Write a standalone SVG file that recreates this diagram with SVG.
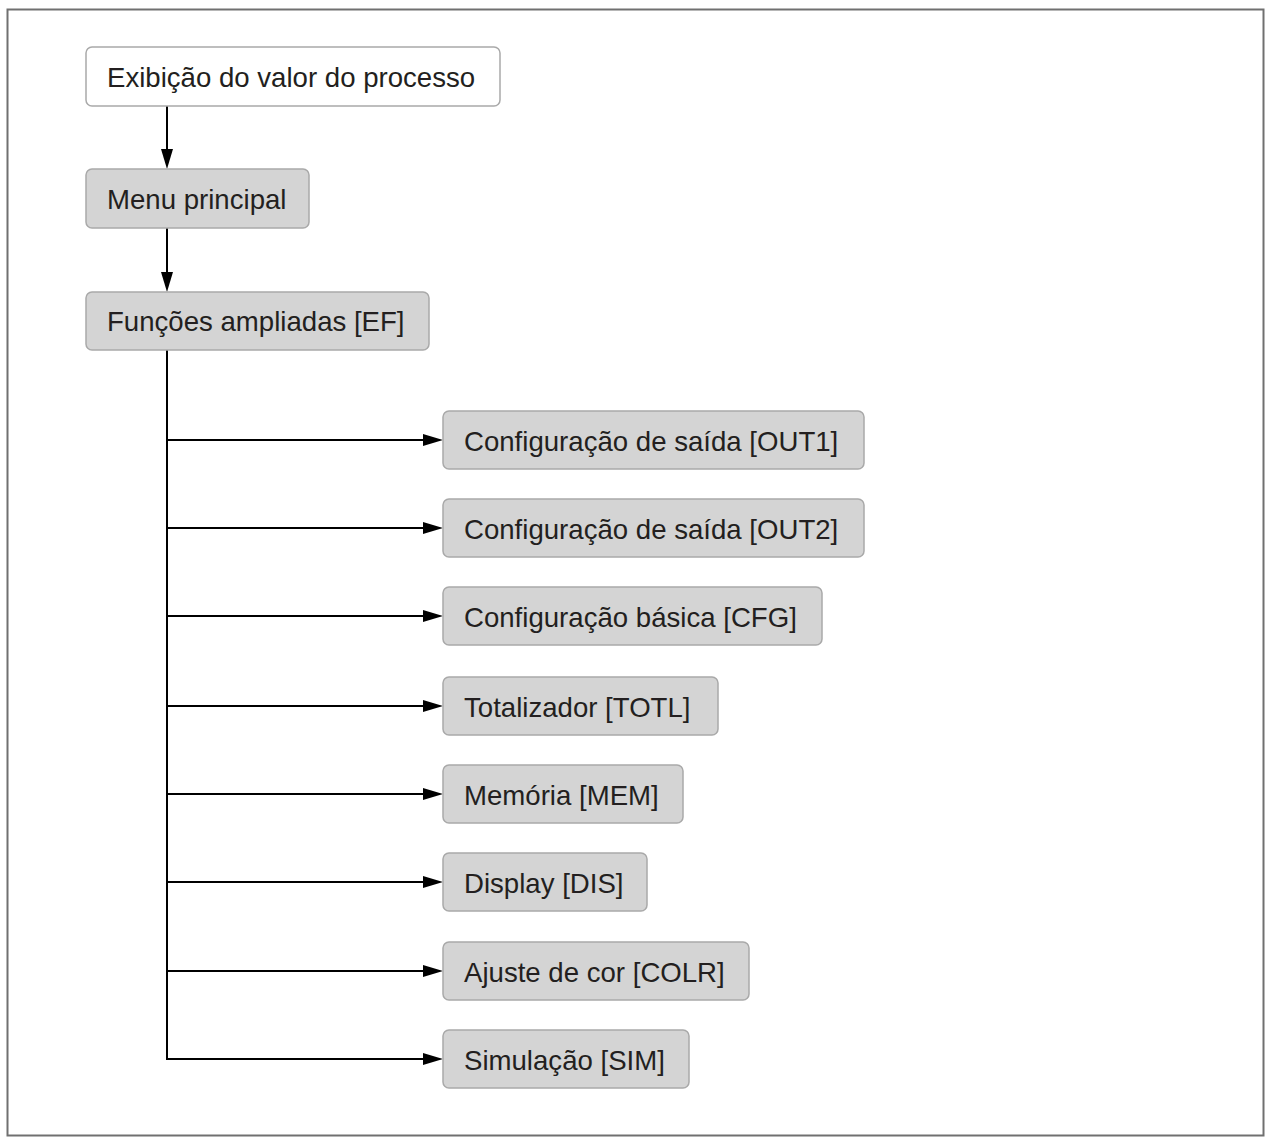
<svg xmlns="http://www.w3.org/2000/svg" width="1265" height="1137" viewBox="0 0 1265 1137">
<style>
.box{fill:#d4d4d4;stroke:#a9a9a9;stroke-width:1.5}
.wbox{fill:#ffffff;stroke:#a9a9a9;stroke-width:1.5}
.lbl{font-family:"Liberation Sans",Arial,Helvetica,sans-serif;font-size:27.6px;fill:#231f20}
.con{fill:none;stroke:#000;stroke-width:2}
</style>
<defs>
<marker id="ah" markerUnits="userSpaceOnUse" markerWidth="20" markerHeight="12" refX="10" refY="6" orient="auto">
<path d="M0,0 L20,6 L0,12 z" fill="#000"/>
</marker>
</defs>
<rect x="7.5" y="9.5" width="1256" height="1126" fill="#fff" stroke="#707070" stroke-width="2"/>
<g id="connectors">
<path class="con" d="M167,106 V159" marker-end="url(#ah)"/>
<path class="con" d="M167,228 V282" marker-end="url(#ah)"/>
<path class="con" d="M167,350 V1059 H433" marker-end="url(#ah)"/>
<path class="con" d="M167,440 H433" marker-end="url(#ah)"/>
<path class="con" d="M167,528 H433" marker-end="url(#ah)"/>
<path class="con" d="M167,616 H433" marker-end="url(#ah)"/>
<path class="con" d="M167,706 H433" marker-end="url(#ah)"/>
<path class="con" d="M167,794 H433" marker-end="url(#ah)"/>
<path class="con" d="M167,882 H433" marker-end="url(#ah)"/>
<path class="con" d="M167,971 H433" marker-end="url(#ah)"/>
</g>
<g id="n-exibicao"><rect class="wbox" x="86" y="47" width="414" height="59" rx="6"/><text class="lbl" x="107" y="87">Exibição do valor do processo</text></g>
<g id="n-menu"><rect class="box" x="86" y="169" width="223" height="59" rx="6"/><text class="lbl" x="107" y="209">Menu principal</text></g>
<g id="n-ef"><rect class="box" x="86" y="292" width="343" height="58" rx="6"/><text class="lbl" x="107" y="331">Funções ampliadas [EF]</text></g>
<g id="n-out1"><rect class="box" x="443" y="411" width="421" height="58" rx="6"/><text class="lbl" x="464" y="450.5">Configuração de saída [OUT1]</text></g>
<g id="n-out2"><rect class="box" x="443" y="499" width="421" height="58" rx="6"/><text class="lbl" x="464" y="538.5">Configuração de saída [OUT2]</text></g>
<g id="n-cfg"><rect class="box" x="443" y="587" width="379" height="58" rx="6"/><text class="lbl" x="464" y="626.5">Configuração básica [CFG]</text></g>
<g id="n-totl"><rect class="box" x="443" y="677" width="275" height="58" rx="6"/><text class="lbl" x="464" y="716.5">Totalizador [TOTL]</text></g>
<g id="n-mem"><rect class="box" x="443" y="765" width="240" height="58" rx="6"/><text class="lbl" x="464" y="804.5">Memória [MEM]</text></g>
<g id="n-dis"><rect class="box" x="443" y="853" width="204" height="58" rx="6"/><text class="lbl" x="464" y="892.5">Display [DIS]</text></g>
<g id="n-colr"><rect class="box" x="443" y="942" width="306" height="58" rx="6"/><text class="lbl" x="464" y="981.5">Ajuste de cor [COLR]</text></g>
<g id="n-sim"><rect class="box" x="443" y="1030" width="246" height="58" rx="6"/><text class="lbl" x="464" y="1069.5">Simulação [SIM]</text></g>
</svg>
